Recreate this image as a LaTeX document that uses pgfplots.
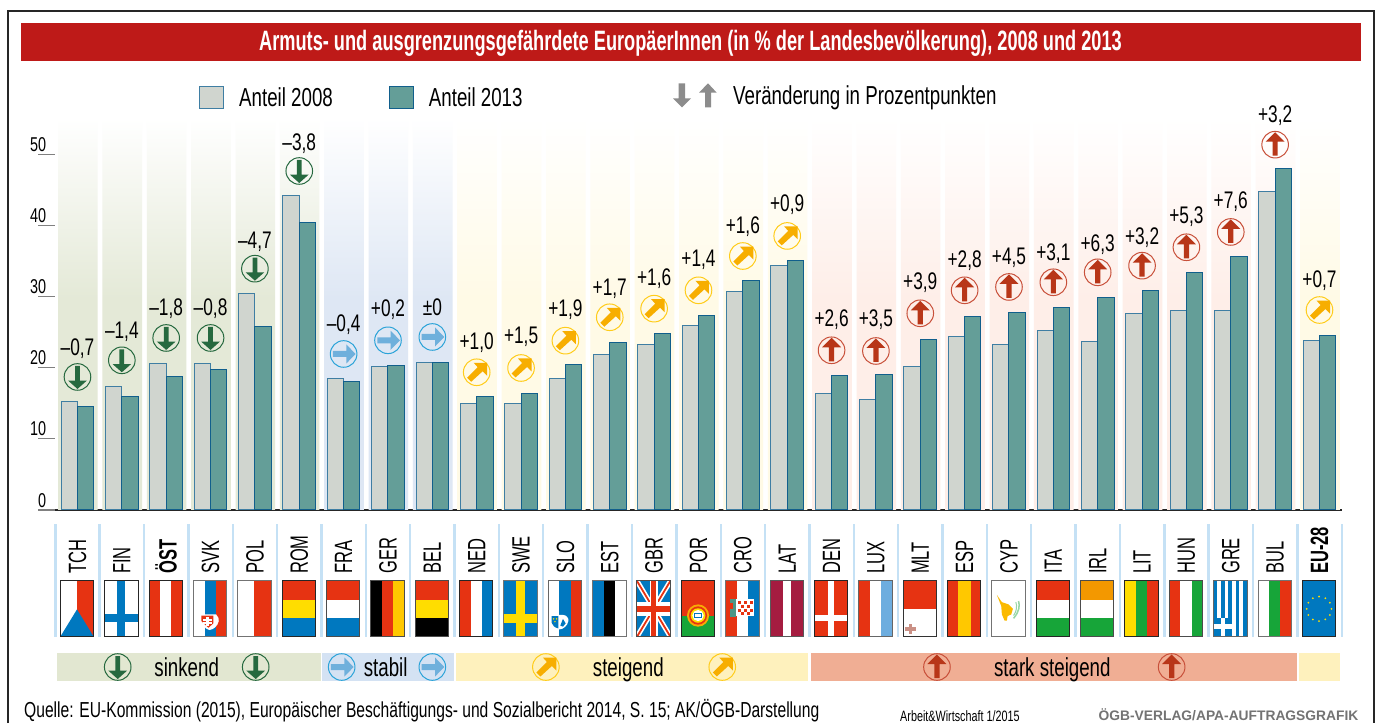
\documentclass[border=0pt]{standalone}
\usepackage{pgfplots}
\usepackage{pgfplotstable}
\usepackage{fontspec}
\pgfplotsset{compat=1.18}
\setmainfont[FakeStretch=0.72]{Liberation Sans}
\newfontfamily\cn[FakeStretch=0.66]{Liberation Sans}
\newfontfamily\ttl[FakeStretch=0.65]{Liberation Sans}
\newfontfamily\wide[FakeStretch=1.0]{Liberation Sans}
\definecolor{dgreen}{HTML}{26693F}
\definecolor{cblue}{HTML}{2BA3D8}
\definecolor{ablue}{HTML}{6FB0DC}
\definecolor{ayel}{HTML}{F7AE00}
\definecolor{cyel}{HTML}{FFCC1A}
\definecolor{ared}{HTML}{B83618}
\definecolor{cred}{HTML}{C8503A}
\definecolor{bar8}{HTML}{D0D5CF}
\definecolor{bar3}{HTML}{649E98}
\definecolor{edge8}{HTML}{3F7EA3}
\definecolor{edge3}{HTML}{115F8C}
\definecolor{colG}{HTML}{E4E9D7}
\definecolor{colB}{HTML}{DEE7F4}
\definecolor{colY}{HTML}{FFFAE6}
\definecolor{colR}{HTML}{FEEEE8}
\definecolor{fr}{HTML}{E63312}
\definecolor{fb}{HTML}{0078BF}
\definecolor{fy}{HTML}{FFDD00}
\definecolor{fg}{HTML}{17A539}
\definecolor{sep}{HTML}{C5E1F5}
\definecolor{titlered}{HTML}{BE1A18}
\definecolor{bandG}{HTML}{E2E7D1}
\definecolor{bandB}{HTML}{D4E2F3}
\definecolor{bandY}{HTML}{FEF1BD}
\definecolor{bandR}{HTML}{F0AE94}
\definecolor{lat}{HTML}{A51C40}
\definecolor{lblue}{HTML}{6DADDF}
\definecolor{gold}{HTML}{FFC800}
\definecolor{orng}{HTML}{F39800}
\definecolor{arrgray}{HTML}{8C8C8C}
\pgfdeclareverticalshading{fadeG}{100bp}{color(0bp)=(colG);color(52bp)=(colG);color(75bp)=(white);color(100bp)=(white)}
\pgfdeclareverticalshading{fadeB}{100bp}{color(0bp)=(colB);color(52bp)=(colB);color(75bp)=(white);color(100bp)=(white)}
\pgfdeclareverticalshading{fadeY}{100bp}{color(0bp)=(colY);color(52bp)=(colY);color(75bp)=(white);color(100bp)=(white)}
\pgfdeclareverticalshading{fadeR}{100bp}{color(0bp)=(colR);color(52bp)=(colR);color(75bp)=(white);color(100bp)=(white)}
\newcommand\ringc[1]{\pgfsetlinewidth{1pt}\pgfsetstrokecolor{#1}\pgfpathcircle{\pgfpointorigin}{13.3pt}\pgfusepath{stroke}}
\newcommand\pp[2]{\pgfpoint{#1pt}{#2pt}}
\pgfdeclareplotmark{bdown}{\ringc{dgreen}\pgfsetfillcolor{dgreen}
 \pgfpathmoveto{\pp{-2.4}{11}}\pgfpathlineto{\pp{2.4}{11}}\pgfpathlineto{\pp{2.4}{-3.7}}\pgfpathlineto{\pp{9.3}{-3.7}}\pgfpathlineto{\pp{0}{-12}}\pgfpathlineto{\pp{-9.3}{-3.7}}\pgfpathlineto{\pp{-2.4}{-3.7}}\pgfpathclose\pgfusepath{fill}}
\pgfdeclareplotmark{bright}{\ringc{cblue}\pgfsetfillcolor{ablue}
 \pgfpathmoveto{\pp{-10.7}{3}}\pgfpathlineto{\pp{2.7}{3}}\pgfpathlineto{\pp{2.7}{9.5}}\pgfpathlineto{\pp{12}{0}}\pgfpathlineto{\pp{2.7}{-9.5}}\pgfpathlineto{\pp{2.7}{-3}}\pgfpathlineto{\pp{-10.7}{-3}}\pgfpathclose\pgfusepath{fill}}
\pgfdeclareplotmark{bne}{\ringc{cyel}\pgfsetfillcolor{ayel}
 \pgfpathmoveto{\pp{10.5}{9.5}}\pgfpathlineto{\pp{10.5}{-3.5}}\pgfpathlineto{\pp{6}{1}}\pgfpathlineto{\pp{-5.5}{-9.5}}\pgfpathlineto{\pp{-9.5}{-5.5}}\pgfpathlineto{\pp{1}{5}}\pgfpathlineto{\pp{-3}{9.5}}\pgfpathclose\pgfusepath{fill}}
\pgfdeclareplotmark{bup}{\ringc{cred}\pgfsetfillcolor{ared}
 \pgfpathmoveto{\pp{-2.6}{-11}}\pgfpathlineto{\pp{2.6}{-11}}\pgfpathlineto{\pp{2.6}{3}}\pgfpathlineto{\pp{9.5}{3}}\pgfpathlineto{\pp{0}{12.5}}\pgfpathlineto{\pp{-9.5}{3}}\pgfpathlineto{\pp{-2.6}{3}}\pgfpathclose\pgfusepath{fill}}
% columns: x, 2008, 2013, badge height, label height, label text
\pgfplotstableread{
x a b c d lab
0 15.3 14.6 18.70 22.73 –0,7
1 17.4 16.0 21.04 25.06 –1,4
2 20.6 18.8 24.18 28.35 –1,8
3 20.6 19.8 24.18 28.25 –0,8
4 30.5 25.8 33.92 37.71 –4,7
5 44.2 40.4 47.65 51.55 –3,8
}\dD
\pgfplotstableread{
x a b c d lab
6 18.5 18.1 21.93 26.10 –0,4
7 20.1 20.3 23.85 28.11 +0,2
8 20.8 20.8 24.32 28.44 ±0
}\dS
\pgfplotstableread{
x a b c d lab
9 14.9 15.9 19.36 23.52 +1,0
10 14.9 16.4 19.96 24.36 +1,5
11 18.5 20.4 23.80 28.21 +1,9
12 21.8 23.5 27.09 31.16 +1,7
13 23.2 24.8 28.30 32.57 +1,6
14 26.0 27.4 30.88 35.14 +1,4
15 30.7 32.3 35.70 39.82 +1,6
16 34.3 35.1 38.52 42.87 +0,9
28 23.8 24.5 28.11 32.19 +0,7
}\dY
\pgfplotstableread{
x a b c d lab
17 16.4 18.9 22.45 26.71 +2,6
18 15.6 19.1 22.35 26.81 +3,5
19 20.1 23.9 27.65 31.95 +3,9
20 24.4 27.2 30.88 35.00 +2,8
21 23.2 27.7 31.35 35.47 +4,5
22 25.3 28.4 32.01 35.99 +3,1
23 23.7 29.9 33.41 37.35 +6,3
24 27.6 30.8 34.34 38.28 +3,2
25 28.1 33.4 36.93 41.23 +5,3
26 28.1 35.7 39.08 43.34 +7,6
27 44.8 48.0 51.35 55.43 +3,2
}\dR
\newcommand\vst[3]{\fill[#1] (0,0) rectangle (1/3,1);\fill[#2] (1/3,0) rectangle (2/3,1);\fill[#3] (2/3,0) rectangle (1,1);}
\newcommand\hst[3]{\fill[#1] (0,0) rectangle (1,1/3);\fill[#2] (0,1/3) rectangle (1,2/3);\fill[#3] (0,2/3) rectangle (1,1);}
\newcommand\flagat[3][black!85]{\begin{scope}[shift={(60.3+44.36*#2,581)},x=33.4pt,y=-55.7pt]
 \begin{scope}\clip (0,0) rectangle (1,1); \fill[white] (0,0) rectangle (1,1); #3\end{scope}
 \draw[#1,line width=1pt] (0,0) rectangle (1,1);\end{scope}}
\newcommand\bgbars[2]{\addplot[ybar,bar width=39.6pt,bar shift=0.4pt,draw=none,shade,shading=#1,forget plot] coordinates {#2};}
\begin{document}
\begin{tikzpicture}
\path[use as bounding box] (0,0) rectangle (1381pt,723pt);
\begin{scope}[shift={(0,723pt)},x=1pt,y=-1pt]
\fill[white] (0,0) rectangle (1381,723);
\draw[black!85,line width=2pt] (7.5,723)--(7.5,11.5)--(1373.5,11.5)--(1373.5,723);
\fill[titlered] (21,23) rectangle (1361,61);
\node[text=white,inner sep=0] at (690.5,43) {\ttl\bfseries\fontsize{28}{28}\selectfont Armuts- und ausgrenzungsgefährdete EuropäerInnen (in \% der Landesbevölkerung), 2008 und 2013};
% change legend
\fill[arrgray] (678.7,83.3)--(685,83.3)--(685,98.3)--(691,98.3)--(682,107.3)--(673,98.3)--(678.7,98.3)--cycle;
\fill[arrgray] (705,107.3)--(711,107.3)--(711,92.7)--(716.7,92.7)--(708,83.3)--(699,92.7)--(705,92.7)--cycle;
\node[anchor=west,inner sep=0] at (733,97.5) {\fontsize{26}{26}\selectfont Veränderung in Prozentpunkten};
% separators
\foreach \i in {0,...,29} {\fill[sep] (55.3+44.36*\i-1.2,524) rectangle (55.3+44.36*\i+1.2,636.7);}
% flags
\flagat{0}{\fill[fr] (.5,0) rectangle (1,1);\fill[fb] (0,1)--(.5,.51)--(1,1)--cycle;}
\flagat{1}{\fill[fb] (.38,0) rectangle (.62,1);\fill[fb] (0,.59) rectangle (1,.74);}
\flagat{2}{\vst{fr}{white}{fr}}
\flagat[black!55]{3}{\vst{white}{fb}{fr}\fill[white] (.2,.6)--(.68,.6) .. controls (.74,.64) and (.78,.68) .. (.76,.72) .. controls (.72,.82) and (.6,.87) .. (.48,.88) .. controls (.36,.86) and (.26,.8) .. (.22,.72)--cycle;\fill[fr] (.24,.62)--(.6,.62)--(.6,.76)--(.45,.84)--(.24,.72)--cycle;\fill[white] (.38,.65) rectangle (.46,.8);\fill[white] (.3,.68) rectangle (.55,.71);\fill[white] (.3,.74) rectangle (.55,.77);}
\flagat[black!55]{4}{\fill[fr] (.5,0) rectangle (1,1);}
\flagat{5}{\hst{fr}{fy}{fb}}
\flagat[black!70]{6}{\hst{fr}{white}{fb}}
\flagat[black!70]{7}{\vst{black}{fr}{gold}}
\flagat[black!70]{8}{\hst{fr}{fy}{black}}
\flagat{9}{\vst{fr}{white}{fb}}
\flagat[black!55]{10}{\fill[fb] (0,0) rectangle (1,1);\fill[fy] (.37,0) rectangle (.62,1);\fill[fy] (0,.59) rectangle (1,.75);}
\flagat[black!60]{11}{\vst{white}{fb}{fr}\fill[white] (.07,.61)--(.07,.75) .. controls (.1,.83) and (.25,.87) .. (.33,.87) .. controls (.45,.87) and (.58,.8) .. (.6,.72)--(.6,.68) .. controls (.55,.62) and (.5,.61) .. (.45,.61)--cycle;\fill[fb] (.1,.63)--(.1,.75) .. controls (.12,.8) and (.2,.84) .. (.3,.85)--(.3,.63)--cycle;\fill[fy] (.16,.68) circle[x radius=.025,y radius=.015];\fill[fy] (.25,.68) circle[x radius=.025,y radius=.015];\fill[fy] (.2,.73) circle[x radius=.025,y radius=.015];\fill[fb] (.36,.8)--(.44,.68)--(.52,.76)--(.44,.82)--cycle;}
\flagat[black!55]{12}{\vst{fb}{black}{white}}
\flagat[black!70]{13}{\fill[fb] (0,0) rectangle (1,1);\draw[white,line width=5pt] (0,0)--(1,1) (1,0)--(0,1);\draw[fr,line width=1.8pt] (0,0)--(1,1) (1,0)--(0,1);\fill[white] (.38,0) rectangle (.62,1);\fill[white] (0,.38) rectangle (1,.62);\fill[fr] (.43,0) rectangle (.57,1);\fill[fr] (0,.45) rectangle (1,.55);}
\flagat{14}{\fill[fr] (0,0) rectangle (1,.62);\fill[fg] (0,.62) rectangle (1,1);\fill[fy!70!fr] (.5,.62) ellipse (.33 and .2);\fill[fr] (.5,.62) ellipse (.27 and .165);\fill[fy] (.5,.62) ellipse (.22 and .13);\fill[white] (.5,.62) ellipse (.17 and .1);\fill[fb] (.37,.57) rectangle (.63,.67);\fill[white] (.42,.6) rectangle (.58,.64);}
\flagat[black!55]{15}{\vst{fr}{white}{fb}\fill[white] (.32,.33) rectangle (.86,.62);\foreach \a/\b in {.36/.36,.54/.36,.72/.36,.45/.43,.63/.43,.36/.5,.54/.5,.72/.5,.45/.56,.63/.56}{\fill[fr] (\a,\b) rectangle ++(.09,.055);}\fill[fb!70!fy] (.12,.33) rectangle (.3,.65);\fill[fr] (.14,.4) rectangle (.22,.5);}
\flagat[black!65]{16}{\fill[lat] (0,0) rectangle (.38,1);\fill[lat] (.63,0) rectangle (1,1);}
\flagat{17}{\fill[fr] (0,0) rectangle (1,1);\fill[white] (.4,0) rectangle (.58,1);\fill[white] (0,.61) rectangle (1,.72);}
\flagat[black!60]{18}{\vst{fr}{white}{lblue}}
\flagat[black!80]{19}{\fill[fr] (0,0) rectangle (1,.5);\fill[white] (.17,.76) rectangle (.28,.97);\fill[black!35!fr!50] (.18,.77) rectangle (.27,.96);\fill[black!35!fr!50] (.06,.83) rectangle (.39,.9);}
\flagat{20}{\fill[fr] (0,0) rectangle (1,1);\fill[gold] (.3,0) rectangle (.7,1);}
\flagat[black!55]{21}{\fill[gold!70!orng] (.15,.25)--(.3,.38)--(.5,.42)--(.63,.5)--(.58,.6)--(.47,.63)--(.45,.71)--(.38,.71)--(.3,.6)--(.28,.45)--cycle;\draw[fg!45,line width=1.5pt] (.8,.36) .. controls (.84,.45) and (.82,.55) .. (.65,.67);\draw[fg!45,line width=1pt] (.72,.38) .. controls (.76,.45) and (.74,.55) .. (.65,.62);}
\flagat{22}{\hst{fr}{white}{fg}}
\flagat[black!70]{23}{\hst{orng}{white}{fg}}
\flagat{24}{\vst{fy}{fg}{fr}}
\flagat[black!70]{25}{\vst{fr}{white}{fg}}
\flagat[black!60]{26}{\fill[fb] (0,0) rectangle (1,1);\foreach \a in {.11,.33,.55,.77}{\fill[white] (\a,0) rectangle ++(.11,1);}\fill[fb] (0,.67) rectangle (.56,1);\fill[white] (.21,.67) rectangle (.33,1);\fill[white] (0,.78) rectangle (.56,.87);}
\flagat[black!55]{27}{\vst{white}{fg}{fr}}
\flagat{28}{\fill[fb] (0,0) rectangle (1,1);\foreach \a in {0,30,...,330}{\fill[fy] ({.5+.37*cos(\a)},{.5+.22*sin(\a)}) ellipse (.03 and .018);}}
% bands
\fill[bandG] (57,653) rectangle (321,681);
\fill[bandB] (322,653) rectangle (454.3,681);
\fill[bandY] (455.7,653) rectangle (807.7,681);
\fill[bandR] (811,653) rectangle (1296.7,681);
\fill[bandY] (1299,653) rectangle (1340,681);
\begin{scope}[every node/.style={inner sep=0,anchor=base,font=\fontsize{26}{26}\selectfont}]
\node at (186.7,676.5) {sinkend};
\node at (385.7,676.5) {stabil};
\node at (628.3,676.5) {steigend};
\node at (1052.3,676.5) {stark steigend};
\end{scope}
% footer
\node[anchor=west,inner sep=0] at (24,711) {\fontsize{21.7}{21.7}\selectfont Quelle: EU-Kommission (2015), Europäischer Beschäftigungs- und Sozialbericht 2014, S.\ 15; AK/ÖGB-Darstellung};
\node[anchor=west,inner sep=0] at (900,716) {\fontsize{15}{15}\selectfont Arbeit\&Wirtschaft 1/2015};
\node[anchor=east,inner sep=0,text=black!55] at (1358.5,714.5) {\wide\bfseries\fontsize{13.8}{13.8}\selectfont ÖGB-VERLAG/APA-AUFTRAGSGRAFIK};
\end{scope}
\begin{axis}[
  at={(55.3pt,213pt)},anchor=south west,
  scale only axis,width=1286.4pt,height=392pt,
  xmin=-0.5,xmax=28.5,ymin=0,ymax=55.1,
  clip=false,
  axis lines=left,
  axis line style={-},
  y axis line style={draw=none},
  x axis line style={black!85,line width=1.2pt},
  tick align=outside,
  major tick length=17pt,
  ytick={0,10,20,30,40,50},
  ytick style={black!50,line width=1.1pt},
  /pgf/number format/assume math mode=true,
  yticklabel style={anchor=south east,inner sep=0pt,xshift=8pt,yshift=2.5pt,font=\fontsize{20}{20}\selectfont},
  xtick={0,...,28},
  xtick style={draw=none},
  xticklabels={TCH,FIN,\textbf{ÖST},SVK,POL,ROM,FRA,GER,BEL,NED,SWE,SLO,EST,GBR,POR,CRO,LAT,DEN,LUX,MLT,ESP,CYP,ITA,IRL,LIT,HUN,GRE,BUL,\textbf{EU-28}},
  xticklabel style={rotate=90,anchor=west,inner sep=0pt,xshift=-47pt,font=\cn\fontsize{25}{25}\selectfont},
  extra x ticks={-0.5,0.5,...,28.5},
  extra x tick labels={},
  extra tick style={major tick length=14pt,tick style={black!70,line width=1.2pt}},
  legend style={at={(0.1094,1.051)},anchor=west,draw=none,fill=none,legend columns=2,font=\fontsize{26}{26}\selectfont,/tikz/every even column/.style={column sep=54pt},/tikz/every odd column/.style={column sep=13pt}},
  every node near coord/.append style={anchor=center,font=\fontsize{24}{24}\selectfont,inner sep=0pt,text=black},
]
\bgbars{fadeG}{(0,55.1)(1,55.1)(2,55.1)(3,55.1)(4,55.1)(5,55.1)}
\bgbars{fadeB}{(6,55.1)(7,55.1)(8,55.1)}
\bgbars{fadeY}{(9,55.1)(10,55.1)(11,55.1)(12,55.1)(13,55.1)(14,55.1)(15,55.1)(16,55.1)(28,55.1)}
\bgbars{fadeR}{(17,55.1)(18,55.1)(19,55.1)(20,55.1)(21,55.1)(22,55.1)(23,55.1)(24,55.1)(25,55.1)(26,55.1)(27,55.1)}
\addplot[ybar,bar width=16.3pt,bar shift=-8.15pt,fill=bar8,draw=edge8,line width=1pt,
  legend image code/.code={\draw[fill=bar8,draw=edge8,line width=1pt] (0pt,-11pt) rectangle (24pt,11pt);}] coordinates {
 (0,15.3)(1,17.4)(2,20.6)(3,20.6)(4,30.5)(5,44.2)(6,18.5)(7,20.1)(8,20.8)(9,14.9)(10,14.9)(11,18.5)(12,21.8)(13,23.2)(14,26.0)(15,30.7)(16,34.3)(17,16.4)(18,15.6)(19,20.1)(20,24.4)(21,23.2)(22,25.3)(23,23.7)(24,27.6)(25,28.1)(26,28.1)(27,44.8)(28,23.8)};
\addlegendentry{Anteil 2008}
\addplot[ybar,bar width=16.3pt,bar shift=8.15pt,fill=bar3,draw=edge3,line width=1pt,
  legend image code/.code={\draw[fill=bar3,draw=edge3,line width=1pt] (0pt,-11pt) rectangle (24pt,11pt);}] coordinates {
 (0,14.6)(1,16.0)(2,18.8)(3,19.8)(4,25.8)(5,40.4)(6,18.1)(7,20.3)(8,20.8)(9,15.9)(10,16.4)(11,20.4)(12,23.5)(13,24.8)(14,27.4)(15,32.3)(16,35.1)(17,18.9)(18,19.1)(19,23.9)(20,27.2)(21,27.7)(22,28.4)(23,29.9)(24,30.8)(25,33.4)(26,35.7)(27,48.0)(28,24.5)};
\addlegendentry{Anteil 2013}
\addplot[only marks,mark=bdown,forget plot] table[x=x,y=c]{\dD};
\addplot[only marks,mark=bright,forget plot] table[x=x,y=c]{\dS};
\addplot[only marks,mark=bne,forget plot] table[x=x,y=c]{\dY};
\addplot[only marks,mark=bup,forget plot] table[x=x,y=c]{\dR};
\addplot[only marks,mark=none,forget plot,point meta=explicit symbolic,nodes near coords] table[x=x,y=d,meta=lab]{\dD};
\addplot[only marks,mark=none,forget plot,point meta=explicit symbolic,nodes near coords] table[x=x,y=d,meta=lab]{\dS};
\addplot[only marks,mark=none,forget plot,point meta=explicit symbolic,nodes near coords] table[x=x,y=d,meta=lab]{\dY};
\addplot[only marks,mark=none,forget plot,point meta=explicit symbolic,nodes near coords] table[x=x,y=d,meta=lab]{\dR};
\addplot[only marks,mark=bdown,forget plot] coordinates {(0.907,-22.07)(4.018,-22.07)};
\addplot[only marks,mark=bright,forget plot] coordinates {(5.956,-22.07)(8.0,-22.07)};
\addplot[only marks,mark=bne,forget plot] coordinates {(10.56,-22.07)(14.536,-22.07)};
\addplot[only marks,mark=bup,forget plot] coordinates {(19.376,-22.07)(24.667,-22.07)};
\end{axis}
\end{tikzpicture}
\end{document}
